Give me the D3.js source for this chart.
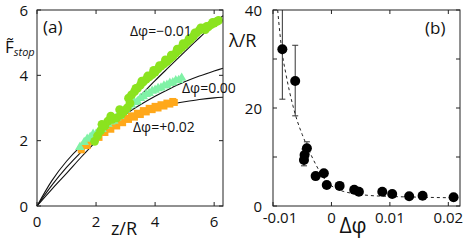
<!DOCTYPE html>
<html lang="en">
<head>
  <meta charset="UTF-8">
  <title>F stop and lambda/R</title>
  <script src="https://cdn.jsdelivr.net/npm/d3@7"></script>
  <style>
    body { margin: 0; background: #fff; }
    svg text { font-family: "Open Sans", sans-serif; fill: #111; }
    .frame { fill: none; stroke: #222; stroke-width: 1; }
    .tick-mark { stroke: #222; stroke-width: 1; }
  </style>
</head>
<body>
  <svg id="chart" width="464" height="240"></svg>
  <script>
    // ---- panel (a): F_stop vs z/R ----
    const greenZ = [1.95, 2.05, 2.15, 2.3, 2.4, 2.55, 2.7, 2.85, 2.95, 3.05, 3.15, 3.2, 3.3, 3.4, 3.5, 3.6, 3.7, 3.8, 3.9, 4.0, 4.1, 4.2, 4.3, 4.4, 4.5, 4.6, 4.7, 4.8, 4.9, 5.0, 5.1, 5.2, 5.3, 5.4, 5.5, 5.6, 5.7, 5.8, 5.9, 6.0, 6.1, 6.15,
                    2.2, 2.5, 2.8, 3.1, 3.35, 3.55, 3.75, 3.95, 4.15, 4.35, 4.55, 4.75, 4.95, 5.15, 5.35, 5.55, 5.75, 5.95];
    const greenF = [1.98, 2.15, 2.3, 2.45, 2.6, 2.65, 2.7, 2.8, 2.9, 3.0, 3.15, 3.4, 3.5, 3.6, 3.7, 3.8, 3.88, 3.95, 4.02, 4.1, 4.2, 4.28, 4.35, 4.42, 4.5, 4.58, 4.68, 4.76, 4.85, 4.93, 5.02, 5.1, 5.2, 5.3, 5.38, 5.42, 5.4, 5.48, 5.55, 5.6, 5.65, 5.68,
                    2.5, 2.75, 2.95, 3.3, 3.6, 3.82, 3.98, 4.15, 4.3, 4.47, 4.62, 4.8, 4.97, 5.12, 5.3, 5.45, 5.5, 5.62];

    const mintZ = [1.45, 1.6, 1.8, 2.0, 2.2, 2.4, 2.6, 2.8, 3.0, 3.2, 3.4, 3.6, 3.8, 4.0, 4.2, 4.4, 4.6, 4.8, 4.9,
                   1.7, 1.9, 2.1, 2.3, 2.5, 2.7, 2.9, 3.1, 3.3, 3.5, 3.7, 3.9, 4.1, 4.3, 4.5, 4.7];
    const mintF = [1.8, 1.95, 2.1, 2.2, 2.35, 2.5, 2.6, 2.75, 2.95, 3.1, 3.2, 3.35, 3.45, 3.55, 3.62, 3.7, 3.78, 3.85, 3.92,
                   2.05, 2.2, 2.3, 2.45, 2.58, 2.7, 2.88, 3.05, 3.18, 3.3, 3.42, 3.52, 3.6, 3.68, 3.76, 3.84];

    const orangeZ = [1.5, 1.7, 1.9, 2.1, 2.3, 2.5, 2.7, 2.9, 3.1, 3.3, 3.5, 3.7, 3.9, 4.1, 4.3, 4.5, 4.65,
                     1.6, 1.8, 2.0, 2.2, 2.4, 2.6, 2.8, 3.0, 3.2, 3.4, 3.6, 3.8, 4.0, 4.2, 4.4, 4.6];
    const orangeF = [1.72, 1.85, 1.98, 2.1, 2.25, 2.35, 2.45, 2.55, 2.65, 2.72, 2.8, 2.88, 2.95, 3.0, 3.06, 3.12, 3.17,
                     1.86, 1.99, 2.12, 2.26, 2.38, 2.48, 2.58, 2.68, 2.76, 2.84, 2.92, 2.99, 3.05, 3.1, 3.15, 3.2];

    const fitZ = [0, 0.5, 1, 1.5, 2, 2.5, 3, 3.5, 4, 4.5, 5, 5.5, 6, 6.3];
    const fitMinus = [0, 0.51, 1.0, 1.5, 1.98, 2.45, 2.92, 3.38, 3.84, 4.28, 4.72, 5.15, 5.58, 5.83];
    const fitZero = [0, 0.63, 1.18, 1.66, 2.09, 2.47, 2.81, 3.1, 3.36, 3.59, 3.8, 3.98, 4.13, 4.22];
    const fitPlus = [0, 0.77, 1.37, 1.84, 2.2, 2.48, 2.7, 2.88, 3.01, 3.11, 3.19, 3.26, 3.31, 3.33];

    const aXTicks = [0, 2, 4, 6];
    const aYTicks = [0, 2, 4, 6];

    // ---- panel (b): lambda/R vs delta phi ----
    const dPhi = [-0.0084, -0.0062, -0.0042, -0.0046, -0.0047, -0.0027, -0.0013, -0.0008, 0.0014, 0.0039, 0.0047, 0.0087, 0.0104, 0.0133, 0.0156, 0.0209];
    const lambdaR = [32.0, 25.5, 11.8, 10.4, 9.4, 6.1, 6.7, 4.3, 4.1, 3.3, 2.9, 2.9, 2.45, 2.0, 2.1, 1.8];
    const errLow = [21.8, 18.4, 10.6, 9.2, 8.2, null, null, null, null, null, null, null, null, null, null, null];
    const errHigh = [42.2, 32.8, 13.1, 11.6, 10.6, null, null, null, null, null, null, null, null, null, null, null];

    const dashPhi = [-0.0092, -0.0088, -0.0084, -0.0078, -0.0072, -0.0066, -0.0058, -0.005, -0.0042, -0.0034, -0.0026, -0.0018, -0.0008, 0.0004, 0.002, 0.004, 0.0065, 0.01, 0.015, 0.022];
    const dashLambda = [40, 35, 31, 27, 23.5, 20.5, 17.2, 14.6, 12.3, 10.2, 8.3, 6.6, 5.0, 3.8, 3.0, 2.5, 2.15, 1.95, 1.8, 1.65];

    const bXTicks = [-0.01, 0, 0.01, 0.02];
    const bXLabels = ["-0.01", "0", "0.01", "0.02"];
    const bYTicks = [0, 10, 20, 30, 40];
    const bYLabels = [0, 20, 40];

    const svg = d3.select("#chart");
    const tickLen = 4;

    // frame with inward ticks on all four sides
    function drawFrame(g, x, y, xt, yt) {
      const [x0, x1] = x.range();
      const [y0, y1] = y.range();
      g.append("rect").attr("class", "frame")
        .attr("x", x0).attr("y", y1)
        .attr("width", x1 - x0).attr("height", y0 - y1);
      xt.forEach(t => {
        g.append("line").attr("class", "tick-mark")
          .attr("x1", x(t)).attr("x2", x(t)).attr("y1", y0).attr("y2", y0 - tickLen);
        g.append("line").attr("class", "tick-mark")
          .attr("x1", x(t)).attr("x2", x(t)).attr("y1", y1).attr("y2", y1 + tickLen);
      });
      yt.forEach(t => {
        g.append("line").attr("class", "tick-mark")
          .attr("x1", x0).attr("x2", x0 + tickLen).attr("y1", y(t)).attr("y2", y(t));
        g.append("line").attr("class", "tick-mark")
          .attr("x1", x1).attr("x2", x1 - tickLen).attr("y1", y(t)).attr("y2", y(t));
      });
    }

    // ===== panel (a) =====
    const xa = d3.scaleLinear().domain([0, 6.3]).range([37, 223]);
    const ya = d3.scaleLinear().domain([0, 6]).range([206, 10]);
    const ga = svg.append("g");

    const fitLine = d3.line()
      .x(d => xa(d[0])).y(d => ya(d[1]))
      .curve(d3.curveMonotoneX);
    [fitMinus, fitZero, fitPlus].forEach(f => {
      ga.append("path")
        .datum(fitZ.map((z, i) => [z, f[i]]))
        .attr("d", fitLine)
        .attr("fill", "none")
        .attr("stroke", "#111")
        .attr("stroke-width", 1.1);
    });

    ga.selectAll(".sq")
      .data(orangeZ.map((z, i) => [z, orangeF[i]]))
      .enter().append("rect")
      .attr("x", d => xa(d[0]) - 3.5).attr("y", d => ya(d[1]) - 3.5)
      .attr("width", 7).attr("height", 7)
      .attr("fill", "#ffa81a");

    const tri = d3.symbol().type(d3.symbolTriangle).size(40);
    ga.selectAll(".tri")
      .data(mintZ.map((z, i) => [z, mintF[i]]))
      .enter().append("path")
      .attr("d", tri)
      .attr("transform", d => `translate(${xa(d[0])},${ya(d[1])})`)
      .attr("fill", "#80f2a6");

    ga.selectAll(".dot")
      .data(greenZ.map((z, i) => [z, greenF[i]]))
      .enter().append("circle")
      .attr("cx", d => xa(d[0])).attr("cy", d => ya(d[1]))
      .attr("r", 4.4)
      .attr("fill", "#8be31f");

    drawFrame(ga, xa, ya, aXTicks, aYTicks);

    ga.selectAll(".xl").data(aXTicks).enter().append("text")
      .attr("x", d => xa(d)).attr("y", 227)
      .attr("text-anchor", "middle").attr("font-size", 15)
      .text(d => d);
    ga.selectAll(".yl").data(aYTicks).enter().append("text")
      .attr("x", 28).attr("y", d => ya(d) + 5.5)
      .attr("text-anchor", "end").attr("font-size", 15)
      .text(d => d);

    ga.append("text").attr("x", 124).attr("y", 235)
      .attr("text-anchor", "middle").attr("font-size", 18).text("z/R");
    ga.append("text").attr("x", 43).attr("y", 33)
      .attr("font-size", 17).text("(a)");

    // F-tilde with "stop" subscript
    const fLab = ga.append("text").attr("x", 5).attr("y", 53).attr("font-size", 17);
    fLab.append("tspan").text("F\u0303");
    fLab.append("tspan").attr("dy", 3).attr("font-size", 11)
      .attr("font-style", "italic").text("stop");

    ga.append("text").attr("x", 130).attr("y", 36).attr("font-size", 14).text("Δφ=−0.01");
    ga.append("text").attr("x", 182).attr("y", 93).attr("font-size", 14).text("Δφ=0.00");
    ga.append("text").attr("x", 133).attr("y", 132).attr("font-size", 14).text("Δφ=+0.02");

    // ===== panel (b) =====
    const xb = d3.scaleLinear().domain([-0.01, 0.022]).range([273, 460]);
    const yb = d3.scaleLinear().domain([0, 40]).range([206, 10]);
    const gb = svg.append("g");

    gb.append("clipPath").attr("id", "clipB")
      .append("rect").attr("x", 273).attr("y", 10).attr("width", 187).attr("height", 196);
    const plotB = gb.append("g").attr("clip-path", "url(#clipB)");

    plotB.append("path")
      .datum(dashPhi.map((p, i) => [p, dashLambda[i]]))
      .attr("d", d3.line().x(d => xb(d[0])).y(d => yb(d[1])).curve(d3.curveMonotoneX))
      .attr("fill", "none")
      .attr("stroke", "#222")
      .attr("stroke-width", 1)
      .attr("stroke-dasharray", "3,3");

    const errs = dPhi.map((p, i) => ({ p, lo: errLow[i], hi: errHigh[i] })).filter(d => d.lo != null);
    errs.forEach(d => {
      plotB.append("line").attr("x1", xb(d.p)).attr("x2", xb(d.p))
        .attr("y1", yb(d.lo)).attr("y2", yb(d.hi))
        .attr("stroke", "#333").attr("stroke-width", 1);
      [d.lo, d.hi].forEach(v => {
        plotB.append("line").attr("x1", xb(d.p) - 3).attr("x2", xb(d.p) + 3)
          .attr("y1", yb(v)).attr("y2", yb(v))
          .attr("stroke", "#333").attr("stroke-width", 1);
      });
    });

    plotB.selectAll(".pt")
      .data(dPhi.map((p, i) => [p, lambdaR[i]]))
      .enter().append("circle")
      .attr("cx", d => xb(d[0])).attr("cy", d => yb(d[1]))
      .attr("r", 5)
      .attr("fill", "#000");

    drawFrame(gb, xb, yb, bXTicks, bYTicks);

    gb.selectAll(".xl").data(bXTicks).enter().append("text")
      .attr("x", (d, i) => xb(d) + (i === 0 ? 7 : 0)).attr("y", 223)
      .attr("text-anchor", "middle").attr("font-size", 15)
      .text((d, i) => bXLabels[i]);
    gb.selectAll(".yl").data(bYLabels).enter().append("text")
      .attr("x", 262).attr("y", d => yb(d) + 5.5)
      .attr("text-anchor", "end").attr("font-size", 15)
      .text(d => d);

    gb.append("text").attr("x", 353).attr("y", 233)
      .attr("text-anchor", "middle").attr("font-size", 21).text("Δφ");
    gb.append("text").attr("x", 229).attr("y", 47)
      .attr("font-size", 18).text("λ/R");
    gb.append("text").attr("x", 425).attr("y", 34)
      .attr("font-size", 17).text("(b)");
  </script>
</body>
</html>
